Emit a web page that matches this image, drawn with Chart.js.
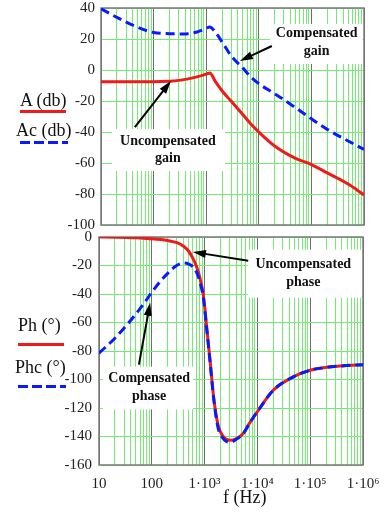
<!DOCTYPE html>
<html lang="en">
<head>
<meta charset="UTF-8">
<title>Bode plot</title>
<script src="https://cdn.jsdelivr.net/npm/chart.js"></script>
<style>
    body { margin: 0; background: #fff; }
    #page { position: relative; width: 384px; height: 512px; overflow: hidden; font-family: "Liberation Serif", "Times New Roman", serif; }
    canvas { position: absolute; left: 0; }
    .lbl { position: absolute; font-size: 18px; color: #111; white-space: nowrap; line-height: 1; }
    .red { position: absolute; height: 3px; background: #f01a1a; }
    .blue { position: absolute; height: 3px; background: repeating-linear-gradient(90deg, #0a1aff 0 10px, transparent 10px 14px); }
</style>
</head>
<body>
<div id="page">
    <canvas id="gain" width="384" height="232" style="top:0"></canvas>
    <canvas id="phase" width="384" height="282" style="top:230px"></canvas>

    <div class="lbl" style="left:20px;top:91px">A (db)</div>
    <div class="red" style="left:20px;top:110px;width:46px"></div>
    <div class="lbl" style="left:16px;top:121px">Ac (db)</div>
    <div class="blue" style="left:20px;top:141px;width:48px"></div>

    <div class="lbl" style="left:18px;top:316px">Ph (°)</div>
    <div class="red" style="left:18px;top:343px;width:46px"></div>
    <div class="lbl" style="left:15px;top:358px">Phc (°)</div>
    <div class="blue" style="left:18px;top:385px;width:48px"></div>

    <div class="lbl" style="left:223px;top:488px">f (Hz)</div>
</div>

<script>
    // gain plot (dB)
    const gainFreq = [10, 20, 50, 100, 200, 300, 500, 700, 1000, 1170, 1500, 2000, 3000, 5000, 7000, 1e4, 2e4, 5e4, 1e5, 2e5, 5e5, 1e6];
    const gainA  = [-7.5, -7.5, -7.5, -7.5, -7.2, -6.7, -5.4, -4.3, -2.7, -1.9, -7.5, -13.4, -20.2, -28.9, -34.7, -40, -49, -57, -61, -66.4, -73.6, -80.6];
    const gainAc = [39.5, 34, 27.5, 24.2, 23.4, 23.3, 23.5, 24.8, 26.8, 27.8, 24.3, 18.2, 9, 1.2, -4.3, -8.8, -15.3, -24.3, -31.5, -38.3, -45.8, -51.2];

    // phase plot (deg)
    const phaseFreq = [10, 20, 35, 50, 70, 100, 150, 200, 300, 400, 500, 600, 700, 800, 950, 1100, 1280, 1480, 1800, 2200, 2600, 3000, 4000, 5500, 7000, 1e4, 2e4, 5e4, 1e5, 2e5, 5e5, 1e6];
    const phaseP  = [0, -0.2, -0.4, -0.6, -0.9, -1.2, -1.8, -2.5, -4, -6.5, -10, -15, -20.5, -27.5, -41, -64, -88, -112, -132, -139.5, -142, -142.7, -141.5, -137.5, -131, -122.5, -107.5, -97.8, -93.5, -91.5, -90.2, -89.7];
    const phasePc = [-81.5, -71, -61, -54, -47, -38.8, -30.5, -25.5, -19.8, -18.3, -19, -20.8, -24.5, -30.5, -43, -65, -89, -113, -134, -141, -143.5, -144, -142, -137.5, -131, -122.5, -107.5, -97.8, -93.5, -91.5, -90.2, -89.7];

    const decades = [10, 100, 1000, 1e4, 1e5, 1e6];
    const decadeLabels = ['10', '100', '1·10³', '1·10⁴', '1·10⁵', '1·10⁶'];

    const minorFreqs = [];
    for (let d = 1; d <= 5; d++) {
        for (let m = 1; m <= 9; m++) minorFreqs.push(m * Math.pow(10, d));
    }
    minorFreqs.push(1e6);

    const GREEN = '#74ec74';
    const GRAY = '#6e6e6e';
    const FONT = { family: '"Liberation Serif", "Times New Roman", serif', size: 15 };

    const pts = (fs, vs) => fs.map((f, i) => ({ x: f, y: vs[i] }));

    function xScale(showLabels) {
        return {
            type: 'logarithmic', min: 10, max: 1e6,
            afterBuildTicks: s => { s.ticks = minorFreqs.map(v => ({ value: v })); },
            afterFit: s => {
                s.height = showLabels ? 47 : 0;
                s.paddingLeft = 0; s.paddingRight = 0;
            },
            grid: { color: c => (c.tick && decades.indexOf(c.tick.value) >= 0) ? GRAY : GREEN, drawTicks: false },
            border: { display: false },
            ticks: {
                display: showLabels, autoSkip: false, maxRotation: 0, padding: 10, color: '#222', font: FONT,
                callback: v => { const i = decades.indexOf(v); return i < 0 ? '' : decadeLabels[i]; }
            }
        };
    }

    function yScale(min, max, width, pad) {
        return {
            min: min, max: max,
            afterFit: s => {
                s.width = width;
                s.paddingTop = 0; s.paddingBottom = 0;
            },
            grid: { color: GREEN, drawTicks: false },
            border: { display: false },
            ticks: { stepSize: 20, padding: pad, color: '#222', font: FONT }
        };
    }

    function arrow(ctx, x0, y0, x1, y1) {
        const a = Math.atan2(y1 - y0, x1 - x0), L = 13, W = 4;
        ctx.beginPath();
        ctx.moveTo(x0, y0);
        ctx.lineTo(x1 - Math.cos(a) * L * 0.7, y1 - Math.sin(a) * L * 0.7);
        ctx.stroke();
        ctx.beginPath();
        ctx.moveTo(x1, y1);
        ctx.lineTo(x1 - L * Math.cos(a) + W * Math.sin(a), y1 - L * Math.sin(a) - W * Math.cos(a));
        ctx.lineTo(x1 - L * Math.cos(a) - W * Math.sin(a), y1 - L * Math.sin(a) + W * Math.cos(a));
        ctx.closePath();
        ctx.fill();
    }

    // white boxes, frame, arrows and captions
    function notesPlugin(notes) {
        return {
            id: 'notes',
            beforeDatasetsDraw(chart) {
                const { ctx, chartArea: a, scales: { x, y } } = chart;
                ctx.save();
                ctx.fillStyle = '#fff';
                notes.boxes.forEach(b => {
                    const x0 = x.getPixelForValue(b.x0), x1 = x.getPixelForValue(b.x1);
                    const y0 = y.getPixelForValue(b.y0), y1 = y.getPixelForValue(b.y1);
                    ctx.fillRect(x0, y0, x1 - x0, y1 - y0);
                });
                ctx.strokeStyle = '#7a7a7a';
                ctx.lineWidth = 1.5;
                ctx.strokeRect(a.left, a.top, a.right - a.left, a.bottom - a.top);
                ctx.restore();
            },
            afterDatasetsDraw(chart) {
                const { ctx, scales: { x, y } } = chart;
                ctx.save();
                ctx.strokeStyle = '#000';
                ctx.fillStyle = '#000';
                ctx.lineWidth = 2;
                notes.arrows.forEach(r => {
                    arrow(ctx, x.getPixelForValue(r.from[0]), y.getPixelForValue(r.from[1]),
                               x.getPixelForValue(r.to[0]), y.getPixelForValue(r.to[1]));
                });
                ctx.fillStyle = '#111';
                ctx.font = 'bold 14px "Liberation Serif", "Times New Roman", serif';
                ctx.textAlign = 'center';
                ctx.textBaseline = 'middle';
                notes.texts.forEach(t => ctx.fillText(t.t, x.getPixelForValue(t.x), y.getPixelForValue(t.y)));
                ctx.restore();
            }
        };
    }

    function makeChart(id, datasets, xs, ys, padding, notes) {
        return new Chart(document.getElementById(id), {
            type: 'line',
            data: { datasets: datasets },
            options: {
                responsive: false,
                animation: false,
                layout: { padding: padding },
                plugins: { legend: { display: false }, tooltip: { enabled: false } },
                elements: { point: { radius: 0 } },
                scales: { x: xs, y: ys }
            },
            plugins: [notesPlugin(notes)]
        });
    }

    const redLine = { borderColor: '#f01a1a', borderWidth: 3, cubicInterpolationMode: 'monotone', fill: false, order: 2 };
    const blueLine = { borderColor: '#0a1aff', borderWidth: 3, borderDash: [9, 5], cubicInterpolationMode: 'monotone', fill: false, order: 1 };

    makeChart('gain',
        [
            Object.assign({ label: 'A (db)', data: pts(gainFreq, gainA) }, redLine),
            Object.assign({ label: 'Ac (db)', data: pts(gainFreq, gainAc) }, blueLine)
        ],
        xScale(false), yScale(-100, 40, 101, 6),
        { top: 8, right: 20, bottom: 7, left: 0 },
        {
            boxes: [
                { x0: 16200, x1: 944000, y0: 29.7, y1: 3.9 },
                { x0: 16.2, x1: 2260, y0: -38.1, y1: -65.2 }
            ],
            texts: [
                { x: 126000, y: 23.9, t: 'Compensated' }, { x: 126000, y: 12.3, t: 'gain' },
                { x: 187, y: -45.8, t: 'Uncompensated' }, { x: 187, y: -56.8, t: 'gain' }
            ],
            arrows: [
                { from: [17700, 15.5], to: [4370, 5.8] },
                { from: [44, -36.8], to: [214, -7.1] }
            ]
        });

    makeChart('phase',
        [
            Object.assign({ label: 'Ph (°)', data: pts(phaseFreq, phaseP) }, redLine),
            Object.assign({ label: 'Phc (°)', data: pts(phaseFreq, phasePc) }, blueLine)
        ],
        xScale(true), yScale(-160, 0, 99, 7),
        { top: 7, right: 21, bottom: 0, left: 0 },
        {
            boxes: [
                { x0: 6700, x1: 973000, y0: -8.9, y1: -42.6 },
                { x0: 11.9, x1: 607, y0: -91, y1: -121 }
            ],
            texts: [
                { x: 74000, y: -19.4, t: 'Uncompensated' }, { x: 74000, y: -31.9, t: 'phase' },
                { x: 89, y: -99.4, t: 'Compensated' }, { x: 89, y: -111.9, t: 'phase' }
            ],
            arrows: [
                { from: [6700, -16.6], to: [600, -10.5] },
                { from: [57, -89.6], to: [93, -46.1] }
            ]
        });
</script>
</body>
</html>
